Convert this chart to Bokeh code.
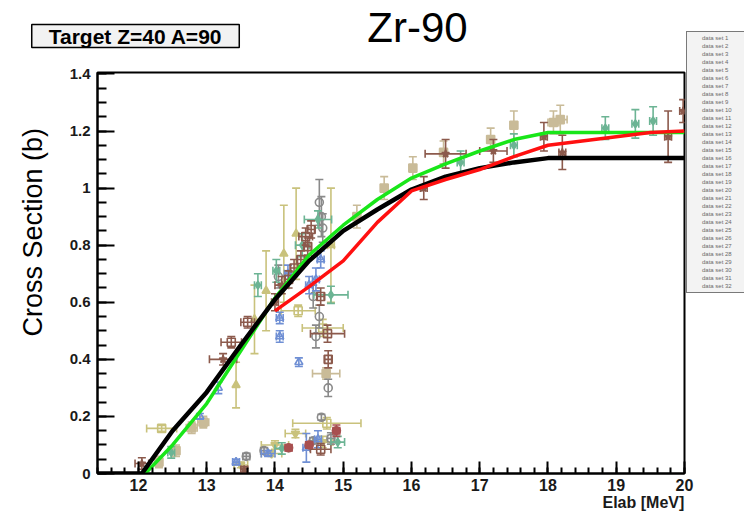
import numpy as np
from bokeh.plotting import figure
from bokeh.models import (Legend, LegendItem, SingleIntervalTicker, Title, Label,
                          CustomJSTickFormatter)
from bokeh.embed import file_html
from bokeh.resources import INLINE

# ---------------- data ----------------
title_text = "Zr-90"
target_text = "Target Z=40 A=90"
x_label = "Elab [MeV]"
y_label = "Cross Section (b)"

x_min, x_max = 11.4, 20.0
y_min, y_max = 0.0, 1.405

black_x = [11.4, 12.05, 12.5, 13.0, 13.5, 14.0, 14.5, 15.0, 15.5, 16.0, 16.5, 17.0, 17.5, 18.0, 20.0]
black_y = [0.0, 0.0, 0.15, 0.285, 0.45, 0.61, 0.745, 0.85, 0.925, 0.995, 1.04, 1.07, 1.09, 1.105, 1.105]

green_x = [12.1, 12.5, 13.0, 13.5, 14.0, 14.5, 15.0, 15.5, 16.0, 16.5, 17.0, 17.5, 18.0, 20.0]
green_y = [0.0, 0.10, 0.245, 0.43, 0.615, 0.765, 0.87, 0.96, 1.035, 1.085, 1.13, 1.17, 1.195, 1.195]

red_x = [14.0, 14.5, 15.0, 15.5, 16.0, 16.5, 17.0, 17.5, 18.0, 18.5, 19.0, 19.5, 20.0]
red_y = [0.57, 0.655, 0.745, 0.88, 0.99, 1.03, 1.065, 1.11, 1.15, 1.165, 1.18, 1.195, 1.20]

# measured data sets (x, y, x-error, y-error)
khaki_tri_x = [14.31, 14.13, 13.87, 13.70, 13.43, 14.82]
khaki_tri_y = [0.84, 0.77, 0.64, 0.54, 0.31, 0.80]
khaki_tri_dx = [0.0, 0.0, 0.0, 0.0, 0.0, 0.05]
khaki_tri_dy = [0.16, 0.17, 0.14, 0.12, 0.08, 0.20]

khaki_sq_x = [12.34, 14.34, 14.70, 14.76]
khaki_sq_y = [0.158, 0.57, 0.51, 0.176]
khaki_sq_dx = [0.22, 0.25, 0.30, 0.50]
khaki_sq_dy = [0.01, 0.02, 0.03, 0.02]

khaki_inv_x = [14.30, 14.0, 13.50, 14.70, 13.95]
khaki_inv_y = [0.14, 0.10, 0.03, 0.11, 0.07]
khaki_inv_dx = [0.15, 0.20, 0.10, 0.15, 0.15]
khaki_inv_dy = [0.015, 0.015, 0.01, 0.02, 0.01]

beige_x = [15.6, 16.02, 16.47, 17.16, 17.5, 18.08, 18.18, 12.55, 12.78, 12.95, 12.3, 14.75, 15.2]
beige_y = [1.0, 1.07, 1.125, 1.17, 1.22, 1.23, 1.24, 0.08, 0.16, 0.18, 0.04, 0.35, 0.90]
beige_dx = [0.05, 0.05, 0.05, 0.05, 0.05, 0.08, 0.1, 0.05, 0.08, 0.08, 0.05, 0.20, 0.05]
beige_dy = [0.04, 0.04, 0.04, 0.04, 0.05, 0.04, 0.05, 0.02, 0.02, 0.02, 0.02, 0.02, 0.04]

brown_sq_x = [14.53, 14.48, 14.38, 14.28, 14.67, 14.77, 14.78, 14.67, 13.6, 13.36, 14.2, 14.45]
brown_sq_y = [0.855, 0.795, 0.75, 0.72, 0.62, 0.49, 0.40, 0.085, 0.53, 0.46, 0.68, 0.83]
brown_sq_dx = [0.05, 0.05, 0.05, 0.05, 0.05, 0.25, 0.05, 0.15, 0.1, 0.15, 0.05, 0.1]
brown_sq_dy = [0.03, 0.03, 0.03, 0.03, 0.03, 0.03, 0.03, 0.02, 0.02, 0.02, 0.03, 0.03]

brown_star_x = [16.5, 16.18, 17.2, 17.94, 18.21, 19.76, 19.98, 13.24, 12.05, 13.55, 14.0, 14.1]
brown_star_y = [1.12, 1.0, 1.13, 1.18, 1.125, 1.18, 1.27, 0.40, 0.035, 0.014, 0.60, 0.66]
brown_star_dx = [0.3, 0.05, 0.2, 0.05, 0.05, 0.05, 0.05, 0.2, 0.1, 0.05, 0.05, 0.1]
brown_star_dy = [0.05, 0.04, 0.04, 0.05, 0.06, 0.09, 0.04, 0.02, 0.02, 0.01, 0.03, 0.03]

gray_x = [14.65, 14.68, 14.56, 14.65, 14.60, 14.78, 14.68, 13.58, 13.84, 14.56, 14.82, 14.05, 14.70]
gray_y = [0.95, 0.90, 0.62, 0.55, 0.48, 0.30, 0.197, 0.06, 0.08, 0.115, 0.123, 0.69, 0.86]
gray_dx = [0.0, 0.0, 0.0, 0.0, 0.0, 0.0, 0.0, 0.05, 0.05, 0.05, 0.05, 0.0, 0.0]
gray_dy = [0.08, 0.07, 0.04, 0.04, 0.04, 0.03, 0.01, 0.01, 0.01, 0.01, 0.02, 0.04, 0.05]

teal_x = [14.63, 14.02, 14.82, 12.48, 14.92, 14.10, 16.72, 17.5, 18.84, 19.28, 19.54, 14.40, 13.75]
teal_y = [0.89, 0.71, 0.626, 0.074, 0.11, 0.088, 1.09, 1.15, 1.21, 1.225, 1.235, 0.80, 0.66]
teal_dx = [0.2, 0.05, 0.25, 0.05, 0.1, 0.1, 0.05, 0.05, 0.05, 0.05, 0.05, 0.1, 0.05]
teal_dy = [0.03, 0.04, 0.03, 0.02, 0.02, 0.02, 0.04, 0.04, 0.04, 0.05, 0.05, 0.04, 0.04]

blue_x = [14.07, 14.07, 14.35, 14.19, 14.67, 13.17, 13.43, 13.90, 14.46, 14.63, 14.60, 14.50, 12.90]
blue_y = [0.48, 0.545, 0.39, 0.70, 0.75, 0.30, 0.04, 0.07, 0.09, 0.12, 0.68, 0.66, 0.20]
blue_dx = [0.05, 0.05, 0.0, 0.05, 0.05, 0.0, 0.05, 0.1, 0.05, 0.05, 0.05, 0.05, 0.0]
blue_dy = [0.02, 0.02, 0.015, 0.03, 0.03, 0.02, 0.01, 0.01, 0.05, 0.03, 0.04, 0.03, 0.01]

dred_x = [14.9, 14.5, 14.2]
dred_y = [0.15, 0.10, 0.09]
dred_dx = [0.05, 0.05, 0.05]
dred_dy = [0.02, 0.01, 0.01]

legend_labels = ["data set %d" % i for i in range(1, 33)]

# ---------------- figure ----------------
KHAKI = "#c9c27c"
BEIGE = "#c9bb98"
BROWN = "#8c5a4c"
GRAY = "#8a8a8a"
TEAL = "#6cb494"
BLUE = "#6f8fd4"
DRED = "#a85050"

p = figure(frame_width=587, frame_height=401,
           min_border_left=97, min_border_right=60, min_border_top=72, min_border_bottom=43,
           x_range=(x_min, x_max), y_range=(y_min, y_max),
           output_backend="svg", toolbar_location=None)
p.background_fill_color = "white"
p.border_fill_color = "white"
p.outline_line_color = "black"
p.outline_line_width = 2
p.grid.visible = False

p.xaxis.ticker = SingleIntervalTicker(interval=1, num_minor_ticks=5)
p.yaxis.ticker = SingleIntervalTicker(interval=0.2, num_minor_ticks=4)
p.yaxis.formatter = CustomJSTickFormatter(code="return String(Math.round(tick*10)/10);")
for ax, tin, tmin in ((p.xaxis, 12, 6), (p.yaxis, 17, 9)):
    ax.axis_line_width = 2
    ax.axis_line_color = "black"
    ax.major_tick_in = tin
    ax.major_tick_out = 0
    ax.minor_tick_in = tmin
    ax.minor_tick_out = 0
    ax.major_tick_line_width = 2
    ax.minor_tick_line_width = 2
    ax.major_label_text_font = "Liberation Sans"
    ax.major_label_text_font_style = "bold"
    ax.major_label_text_color = "#1a1a1a"
p.xaxis.major_label_standoff = 5
p.yaxis.major_label_standoff = 7
p.xaxis.major_label_text_font_size = "16px"
p.yaxis.major_label_text_font_size = "15px"


def draw(xs, ys, dxs, dys, color, marker, filled):
    xs, ys, dxs, dys = map(np.asarray, (xs, ys, dxs, dys))
    p.segment(xs, ys - dys, xs, ys + dys, line_color=color, line_width=1.6)
    p.scatter(np.concatenate([xs, xs]), np.concatenate([ys - dys, ys + dys]),
              marker="dash", size=8, line_color=color, line_width=1.6)
    m = dxs > 0
    if m.any():
        p.segment(xs[m] - dxs[m], ys[m], xs[m] + dxs[m], ys[m], line_color=color, line_width=1.6)
        p.scatter(np.concatenate([xs[m] - dxs[m], xs[m] + dxs[m]]), np.concatenate([ys[m], ys[m]]),
                  marker="dash", size=8, angle=np.pi / 2, line_color=color, line_width=1.6)
    return p.scatter(xs, ys, marker=marker, size=8, line_color=color, line_width=1.6,
                     fill_color=color, fill_alpha=1.0 if filled else 0.0)


draw(khaki_tri_x, khaki_tri_y, khaki_tri_dx, khaki_tri_dy, KHAKI, "triangle", True)
draw(khaki_sq_x, khaki_sq_y, khaki_sq_dx, khaki_sq_dy, KHAKI, "square", False)
draw(khaki_inv_x, khaki_inv_y, khaki_inv_dx, khaki_inv_dy, KHAKI, "inverted_triangle", True)
draw(beige_x, beige_y, beige_dx, beige_dy, BEIGE, "square", True)
draw(gray_x, gray_y, gray_dx, gray_dy, GRAY, "circle", False)
draw(teal_x, teal_y, teal_dx, teal_dy, TEAL, "diamond", True)
draw(blue_x, blue_y, blue_dx, blue_dy, BLUE, "triangle", False)
draw(brown_sq_x, brown_sq_y, brown_sq_dx, brown_sq_dy, BROWN, "square", False)
draw(brown_star_x, brown_star_y, brown_star_dx, brown_star_dy, BROWN, "star", True)
draw(dred_x, dred_y, dred_dx, dred_dy, DRED, "circle", True)

p.line(green_x, green_y, line_color="#19e619", line_width=3.5)
p.line(black_x, black_y, line_color="black", line_width=4.5)
p.line(red_x, red_y, line_color="#ff1010", line_width=3.5)

# ---------------- data-set legend (right side panel, runs off the window edge) ----------------
leg_colors = [TEAL, BROWN, BLUE, KHAKI, TEAL, BEIGE, BROWN, BLUE, KHAKI, TEAL, BROWN, BLUE,
              KHAKI, TEAL, BROWN, BEIGE, BLUE, TEAL, BROWN, KHAKI, BLUE, TEAL, BROWN, BEIGE,
              BLUE, KHAKI, TEAL, GRAY, BROWN, TEAL, BROWN, BLUE]
leg_markers = ["circle", "triangle", "triangle", "diamond", "diamond", "square", "square", "triangle",
               "triangle", "diamond", "square", "triangle", "star", "diamond", "square", "triangle",
               "square", "diamond", "triangle", "triangle", "triangle", "diamond", "star", "square",
               "triangle", "triangle", "diamond", "star", "square", "triangle", "circle", "star"]
items = []
for lab, col, mk in zip(legend_labels, leg_colors, leg_markers):
    r = p.scatter([], [], marker=mk, size=6, line_color=col, fill_color=col, fill_alpha=0.3)
    items.append(LegendItem(label=lab, renderers=[r]))

p.add_layout(Legend(items=items, location=(2, 180), orientation="vertical",
                    glyph_width=10, glyph_height=8, label_height=8, label_width=41,
                    label_standoff=3, spacing=0, padding=2, margin=0,
                    label_text_font_size="6px", label_text_color="#6a6a6a",
                    background_fill_color="#f3f3f3", background_fill_alpha=1.0,
                    border_line_color="black", border_line_width=1), "right")

# ---------------- target box and title (top side panel) ----------------
p.add_layout(Label(x=38, y=36.5, x_units="screen", y_units="screen", text=target_text,
                   text_font="Liberation Sans", text_font_style="bold", text_font_size="21px",
                   text_align="center", text_baseline="middle", text_color="black",
                   background_fill_color="#f2f2f2", border_line_color="black", border_line_width=1.5,
                   padding=dict(left=17, right=17, top=0, bottom=0)), "above")
p.add_layout(Label(x=320, y=22, x_units="screen", y_units="screen", text=title_text,
                   text_font="Liberation Sans", text_font_size="42px", text_align="center",
                   text_baseline="alphabetic", text_color="black"), "above")

# ---------------- axis titles ----------------
p.add_layout(Title(text=y_label, text_font="Liberation Sans", text_font_size="27px",
                   text_font_style="normal", text_color="black", align="left", offset=137,
                   vertical_align="top", standoff=34), "left")
p.add_layout(Title(text=x_label, text_font="Liberation Sans", text_font_size="16px",
                   text_font_style="bold", text_color="#1a1a1a", align="left", offset=505,
                   vertical_align="top", standoff=0), "below")

open("out.html", "w").write(file_html(p, INLINE))
